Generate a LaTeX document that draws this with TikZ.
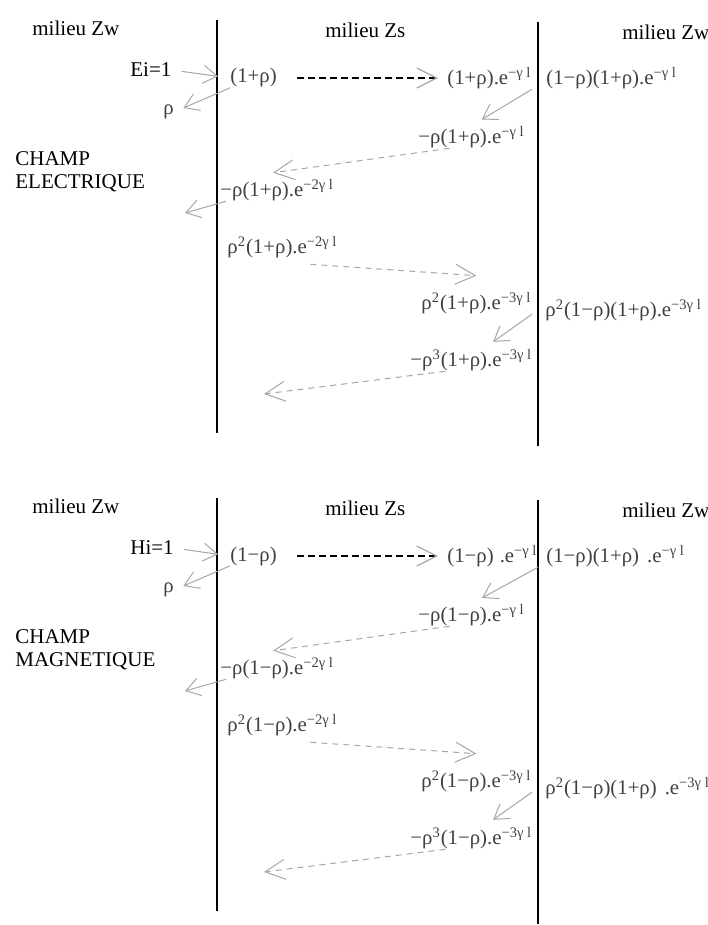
\documentclass[tikz,border=0pt]{standalone}
\usepackage{fontspec}
\setmainfont{Liberation Serif}
\newfontfamily\tms{Liberation Serif}
\usetikzlibrary{arrows.meta}
\newcommand{\ex}[1]{\textsuperscript{#1}}

\begin{document}
\begin{tikzpicture}[x=0.5pt, y=-0.5pt, font=\tms\fontsize{10.4}{12}\selectfont,
  lab/.style={anchor=west, inner sep=0pt, text=black!75},
  head/.style={anchor=west, inner sep=0pt, font=\tms\fontsize{10.5}{11.5}\selectfont},
  iface/.style={line width=1pt},
  ray/.style={-{Straight Barb[length=7pt, width=9pt]}, black!35, line width=0.5pt},
  wave/.style={ray, -{Straight Barb[length=10pt, width=10pt]}, dash pattern=on 3pt off 2.5pt},
  fwd/.style={-{Straight Barb[length=10pt, width=10pt, color=black!35]}, black,
              line width=0.6pt, dash pattern=on 3.5pt off 2pt}]
\useasboundingbox (0,0) rectangle (707,925);
% one panel per field: electric on top, magnetic below
\foreach \p/\dy/\F/\sg/\nm/\ga/\gb in {e/0/E/+/ELECTRIQUE/0pt/0pt, m/478/H/−/MAGNETIQUE/3pt/4pt}{
\begin{scope}[shift={(0,\dy)}]
\draw[iface] (217,20) -- (217,433);
\draw[iface] (538,22) -- (538,446);
\node[head] (zwl\p) at (32,28) {milieu Zw};
\node[head] (zs\p) at (325,30) {milieu Zs};
\node[head] (zwr\p) at (622,32) {milieu Zw};
\node[head] (inc\p) at (130,70) {\F i=1};
\node[head, align=left] (ch\p) at (15,172) {CHAMP\\\nm};
\node[lab] (t1\p) at (230,78) {(1\sg ρ)};
\node[lab] (r1\p) at (163,112) {ρ};
\node[lab] (t2\p) at (447,78) {(1\sg ρ)\hspace{\ga}.e\ex{−γ l}};
\node[lab] (t3\p) at (546,78) {(1−ρ)(1+ρ)\hspace{\gb}.e\ex{−γ l}};
\node[lab] (r2\p) at (418,137) {−ρ(1\sg ρ).e\ex{−γ l}};
\node[lab] (r3\p) at (220,190) {−ρ(1\sg ρ).e\ex{−2γ l}};
\node[lab] (s1\p) at (227,247) {ρ\ex{2}(1\sg ρ).e\ex{−2γ l}};
\node[lab] (s2\p) at (421,303) {ρ\ex{2}(1\sg ρ).e\ex{−3γ l}};
\node[lab] (s3\p) at (545,310) {ρ\ex{2}(1−ρ)(1+ρ)\hspace{\gb}.e\ex{−3γ l}};
\node[lab] (s4\p) at (410,360) {−ρ\ex{3}(1\sg ρ).e\ex{−3γ l}};
\coordinate (o1\p) at (185,213);
\coordinate (o2\p) at (264,394);
\draw[ray, shorten <=5pt, shorten >=6pt] (inc\p.east) -- (t1\p.west);
\draw[ray, shorten >=5pt] (t1\p.south west) -- (r1\p.east);
\draw[fwd, shorten <=10pt, shorten >=4.5pt] (t1\p.east) -- (t2\p.west);
\draw[ray, shorten >=6pt] (t2\p.south east) -- (r2\p.north);
\draw[wave] ([xshift=-11pt]r2\p.south) -- ([xshift=-2pt,yshift=3pt]r3\p.north);
\draw[ray] ([xshift=3pt]r3\p.south west) -- (o1\p);
\draw[wave] ([xshift=14pt,yshift=-3pt]s1\p.south) -- ([yshift=8pt]s2\p.north);
\draw[ray, shorten >=6pt] (s2\p.south east) -- ([xshift=6pt]s4\p.north);
\draw[wave] ([xshift=-13pt]s4\p.south) -- (o2\p);
\end{scope}}
\end{tikzpicture}
\end{document}
